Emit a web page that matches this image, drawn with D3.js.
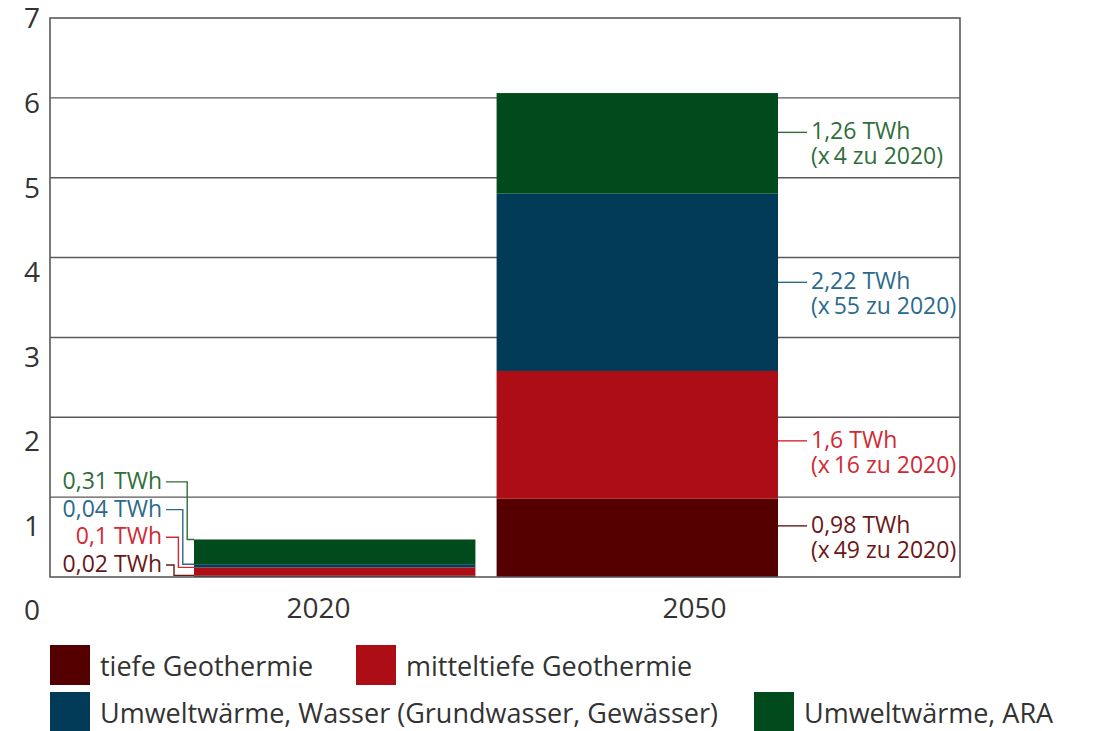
<!DOCTYPE html>
<html>
<head>
<meta charset="utf-8">
<script src="https://cdn.jsdelivr.net/npm/d3@7"></script>
<style>
  html, body { margin: 0; padding: 0; background: #fff; }
  svg { display: block; font-family: "Open Sans", sans-serif; }
</style>
</head>
<body>
<svg id="chart" width="1094" height="731"></svg>
<script>
// Wärmepotenzial Geothermie / Umweltwärme, 2020 vs. 2050 (TWh)
const categories = ["2020", "2050"];
const seriesNames = [
  "tiefe Geothermie",
  "mitteltiefe Geothermie",
  "Umweltwärme, Wasser (Grundwasser, Gewässer)",
  "Umweltwärme, ARA"
];
const values2020 = [0.02, 0.1, 0.04, 0.31];
const values2050 = [0.98, 1.6, 2.22, 1.26];
const growthFactors = ["49", "16", "55", "4"];
const yTicks = [0, 1, 2, 3, 4, 5, 6, 7];

const fills = ["#550000", "#ad0d15", "#023b57", "#004a1c"];
const labelColors = ["#6a1717", "#d12a35", "#2b6a8c", "#2f6e3a"];

const de = d3.formatLocale({ decimal: ",", thousands: ".", grouping: [3], currency: ["", " €"] });
const fmt = de.format("");

const svg = d3.select("#chart");
const plot = { left: 50, right: 960, top: 18, bottom: 577 };

const y = d3.scaleLinear().domain([0, 7]).range([plot.bottom, plot.top]);
// the printed tick numbers run on their own, slightly wider spacing
const yLabel = d3.scaleLinear().domain([0, 7]).range([611, 19]);
const x = d3.scaleBand().domain(categories).range([194, 778]).paddingInner(0.07);
const xLabel = d3.scalePoint().domain(categories).range([318, 694]);

const rows = categories.map((c, i) => {
  const r = { cat: c };
  seriesNames.forEach((s, k) => { r[s] = (i === 0 ? values2020 : values2050)[k]; });
  return r;
});
const stacked = d3.stack().keys(seriesNames)(rows);

const frameColor = "#595959";

// grid lines
svg.append("g")
  .selectAll("line")
  .data(yTicks.filter(t => t > 0 && t < 7))
  .join("line")
  .attr("x1", plot.left).attr("x2", plot.right)
  .attr("y1", d => y(d)).attr("y2", d => y(d))
  .attr("stroke", frameColor).attr("stroke-width", 1.4);

// stacked bars
svg.append("g")
  .selectAll("g")
  .data(stacked)
  .join("g")
  .attr("fill", (d, i) => fills[i])
  .selectAll("rect")
  .data(d => d)
  .join("rect")
  .attr("x", d => x(d.data.cat))
  .attr("width", x.bandwidth())
  .attr("y", d => y(d[1]))
  .attr("height", d => y(d[0]) - y(d[1]));

// frame
svg.append("rect")
  .attr("x", plot.left).attr("y", plot.top)
  .attr("width", plot.right - plot.left).attr("height", plot.bottom - plot.top)
  .attr("fill", "none").attr("stroke", frameColor).attr("stroke-width", 1.6);

// y axis numbers
const yAxis = svg.append("g")
  .attr("transform", `translate(40,0)`)
  .call(d3.axisLeft(yLabel).tickValues(yTicks).tickSize(0).tickPadding(0).tickFormat(d3.format("d")));
yAxis.select(".domain").remove();
yAxis.selectAll("text")
  .attr("font-family", "Open Sans, sans-serif")
  .attr("font-size", 28).attr("fill", "#333");

// category labels
const xAxis = svg.append("g")
  .attr("transform", `translate(0,${plot.bottom})`)
  .call(d3.axisBottom(xLabel).tickSize(0).tickPadding(0));
xAxis.select(".domain").remove();
xAxis.selectAll("text")
  .attr("dy", "1.47em")
  .attr("font-family", "Open Sans, sans-serif")
  .attr("font-size", 28).attr("fill", "#333");

// 2020 value labels, stacked on the left with elbow leaders
const lab2020 = svg.append("g");
stacked.forEach((s, i) => {
  const seg = s[0];
  const base = 572 - i * 27.7;
  const ly = base - 7;
  const vx = 174 + i * 4.4;
  const ty = y(seg[1]);
  lab2020.append("text")
    .attr("x", 162).attr("y", base)
    .attr("text-anchor", "end")
    .attr("font-size", 23).attr("fill", labelColors[i])
    .text(`${fmt(values2020[i])} TWh`);
  lab2020.append("path")
    .attr("d", `M166,${ly}H${vx}V${ty}H${x("2020")}`)
    .attr("fill", "none").attr("stroke", labelColors[i]).attr("stroke-width", 1.4);
});

// 2050 value labels on the right: value line and growth line
const nudge = [-12, 6, 0, -11];
const lab2050 = svg.append("g");
stacked.forEach((s, i) => {
  const seg = s[1];
  const ly = (y(seg[0]) + y(seg[1])) / 2 + nudge[i];
  const x0 = x("2050") + x.bandwidth();
  lab2050.append("line")
    .attr("x1", x0).attr("x2", x0 + 29)
    .attr("y1", ly).attr("y2", ly)
    .attr("stroke", labelColors[i]).attr("stroke-width", 1.4);
  lab2050.append("text")
    .attr("x", x0 + 33).attr("y", ly + 7)
    .attr("font-size", 23).attr("fill", labelColors[i])
    .text(`${fmt(values2050[i])} TWh`);
  lab2050.append("text")
    .attr("x", x0 + 33).attr("y", ly + 32)
    .attr("font-size", 23).attr("fill", labelColors[i])
    .text(`(x\u2009${growthFactors[i]} zu 2020)`);
});

// legend
const legendPos = [[50, 645], [356, 645], [50, 692], [754, 692]];
const legend = svg.append("g");
seriesNames.forEach((s, i) => {
  const [lx, ly] = legendPos[i];
  legend.append("rect")
    .attr("x", lx).attr("y", ly).attr("width", 40).attr("height", 40)
    .attr("fill", fills[i]);
  legend.append("text")
    .attr("x", lx + 50).attr("y", ly + 31)
    .attr("font-size", 27).attr("fill", "#333")
    .text(s);
});
</script>
</body>
</html>
